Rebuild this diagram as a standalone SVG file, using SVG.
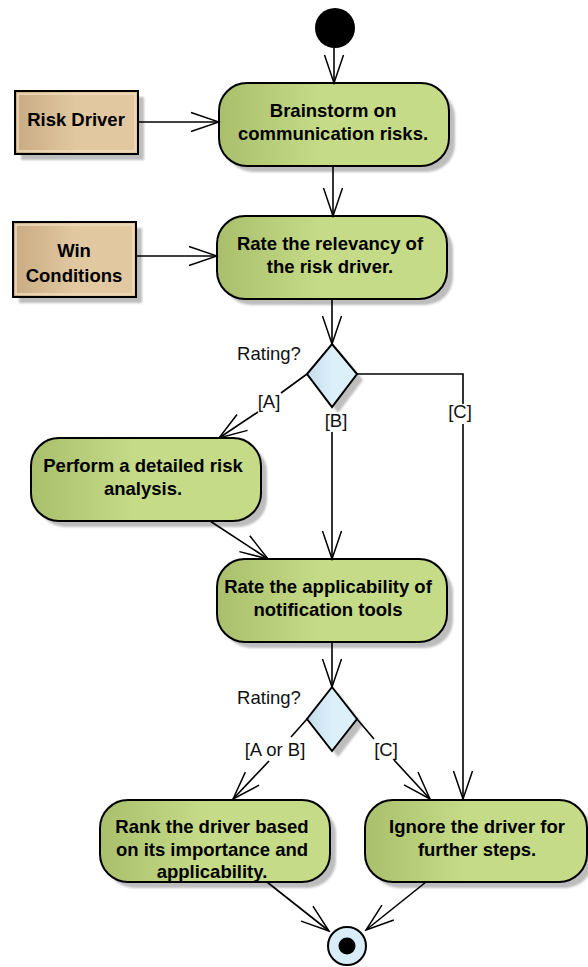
<svg xmlns="http://www.w3.org/2000/svg" width="588" height="967" viewBox="0 0 588 967">
  <defs>
    <linearGradient id="gAction" x1="0" y1="0" x2="1" y2="0">
      <stop offset="0" stop-color="#aabf6c"/>
      <stop offset="0.45" stop-color="#c5db88"/>
      <stop offset="1" stop-color="#c5db88"/>
    </linearGradient>
    <linearGradient id="gObject" x1="0" y1="0" x2="1" y2="0">
      <stop offset="0" stop-color="#c8ab82"/>
      <stop offset="0.5" stop-color="#e1c8a0"/>
      <stop offset="1" stop-color="#e1c8a0"/>
    </linearGradient>
    <linearGradient id="gDecision" x1="0" y1="0" x2="1" y2="0">
      <stop offset="0" stop-color="#c3dcea"/>
      <stop offset="0.5" stop-color="#dcf0fa"/>
      <stop offset="1" stop-color="#dcf0fa"/>
    </linearGradient>
    <filter id="soft" x="-10%" y="-10%" width="130%" height="130%">
      <feGaussianBlur stdDeviation="1.2"/>
    </filter>
    <marker id="open" viewBox="-30 -12 32 24" markerWidth="32" markerHeight="24" refX="0" refY="0" markerUnits="userSpaceOnUse" orient="auto">
      <path d="M-28,-9.5 L0,0 L-28,9.5" fill="none" stroke="#000" stroke-width="1.5"/>
    </marker>
  </defs>
  <style>
    .shadow { fill: #bdbdbd; filter: url(#soft); }
    .action { fill: url(#gAction); stroke: #000; stroke-width: 2; }
    .object { fill: url(#gObject); stroke: #000; stroke-width: 2; }
    .objectInner { fill: none; stroke: #f0dcbc; stroke-width: 1.5; }
    .decision { fill: url(#gDecision); stroke: #000; stroke-width: 2; }
    .label { font-family: "Liberation Sans", Arial, sans-serif; font-size: 18.5px; font-weight: bold; fill: #000; text-anchor: middle; }
    .guard { font-family: "Liberation Sans", Arial, sans-serif; font-size: 18.5px; fill: #111; text-anchor: middle; }
    .edge { fill: none; stroke: #000; stroke-width: 1.6; }
  </style>

  <rect width="588" height="967" fill="#fff"/>

  <!-- start -->
  <g id="start">
    <circle cx="335" cy="28" r="20" fill="#000"/>
  </g>

  <!-- object nodes -->
  <g id="riskDriver">
    <rect class="shadow" x="21" y="97" width="123" height="63"/>
    <rect class="object" x="15" y="91" width="123" height="63"/>
    <rect class="objectInner" x="18" y="94" width="117" height="57"/>
    <text class="label" x="76" y="126">Risk Driver</text>
  </g>
  <g id="winConditions">
    <rect class="shadow" x="19" y="228" width="123" height="75"/>
    <rect class="object" x="13" y="222" width="123" height="75"/>
    <rect class="objectInner" x="16" y="225" width="117" height="69"/>
    <text class="label" x="74" y="257">Win</text>
    <text class="label" x="74" y="282">Conditions</text>
  </g>

  <!-- actions -->
  <g id="brainstorm">
    <rect class="shadow" x="225" y="89" width="230" height="83" rx="28"/>
    <rect class="action" x="219" y="83" width="230" height="83" rx="28"/>
    <text class="label" x="333" y="117">Brainstorm on</text>
    <text class="label" x="333" y="140">communication risks.</text>
  </g>
  <g id="rateRelevancy">
    <rect class="shadow" x="223" y="222" width="230" height="83" rx="28"/>
    <rect class="action" x="217" y="216" width="230" height="83" rx="28"/>
    <text class="label" x="330" y="250">Rate the relevancy of</text>
    <text class="label" x="330" y="273">the risk driver.</text>
  </g>
  <g id="decision1">
    <polygon class="shadow" points="338,350 363,380 338,413 313,380"/>
    <polygon class="decision" points="332,344 357,374 332,407 307,374"/>
    <text class="guard" x="269" y="360">Rating?</text>
  </g>
  <g id="detailedAnalysis">
    <rect class="shadow" x="37" y="444" width="230" height="83" rx="28"/>
    <rect class="action" x="31" y="438" width="230" height="83" rx="28"/>
    <text class="label" x="143" y="472">Perform a detailed risk</text>
    <text class="label" x="143" y="495">analysis.</text>
  </g>
  <g id="rateApplicability">
    <rect class="shadow" x="223" y="565" width="230" height="83" rx="28"/>
    <rect class="action" x="217" y="559" width="230" height="83" rx="28"/>
    <text class="label" x="328" y="593">Rate the applicability of</text>
    <text class="label" x="328" y="616">notification tools</text>
  </g>
  <g id="decision2">
    <polygon class="shadow" points="338,693 363,725 338,757 313,725"/>
    <polygon class="decision" points="332,687 357,719 332,751 307,719"/>
    <text class="guard" x="269" y="704">Rating?</text>
  </g>
  <g id="rankDriver">
    <rect class="shadow" x="106" y="806" width="230" height="82" rx="28"/>
    <rect class="action" x="100" y="800" width="230" height="82" rx="28"/>
    <text class="label" x="212" y="833">Rank the driver based</text>
    <text class="label" x="212" y="856">on its importance and</text>
    <text class="label" x="212" y="878">applicability.</text>
  </g>
  <g id="ignoreDriver">
    <rect class="shadow" x="371" y="806" width="222" height="82" rx="28"/>
    <rect class="action" x="365" y="800" width="222" height="82" rx="28"/>
    <text class="label" x="477" y="833">Ignore the driver for</text>
    <text class="label" x="477" y="856">further steps.</text>
  </g>

  <!-- final -->
  <g id="final">
    <circle cx="347" cy="946" r="19" fill="#d8edf8" stroke="#000" stroke-width="2"/>
    <circle cx="347" cy="946" r="8.5" fill="#000"/>
  </g>

  <!-- guards -->
  <g id="guards">
    <text class="guard" x="269" y="408">[A]</text>
    <text class="guard" x="336" y="427">[B]</text>
    <text class="guard" x="460" y="418">[C]</text>
    <text class="guard" x="275" y="756">[A or B]</text>
    <text class="guard" x="386" y="756">[C]</text>
  </g>

  <!-- connectors -->
  <g id="connectors">
    <path class="edge" d="M334,48 L334,83" marker-end="url(#open)"/>
    <path class="edge" d="M138,122 L219,122" marker-end="url(#open)"/>
    <path class="edge" d="M333,166 L333,216" marker-end="url(#open)"/>
    <path class="edge" d="M136,256 L217,256" marker-end="url(#open)"/>
    <path class="edge" d="M332,299 L332,344" marker-end="url(#open)"/>
    <path class="edge" d="M307,374 L281,393"/>
    <path class="edge" d="M258,412 L219,438" marker-end="url(#open)"/>
    <path class="edge" d="M332,432 L332,559" marker-end="url(#open)"/>
    <path class="edge" d="M357,374 L463,374 L463,404"/>
    <path class="edge" d="M463,424 L463,799" marker-end="url(#open)"/>
    <path class="edge" d="M210,521 L268,559" marker-end="url(#open)"/>
    <path class="edge" d="M332,642 L332,687" marker-end="url(#open)"/>
    <path class="edge" d="M307,719 L291,737"/>
    <path class="edge" d="M269,761 L233,799" marker-end="url(#open)"/>
    <path class="edge" d="M357,719 L374,739"/>
    <path class="edge" d="M394,760 L430,799" marker-end="url(#open)"/>
    <path class="edge" d="M267,882 L329,931" marker-end="url(#open)"/>
    <path class="edge" d="M426,882 L366,930" marker-end="url(#open)"/>
  </g>
</svg>
